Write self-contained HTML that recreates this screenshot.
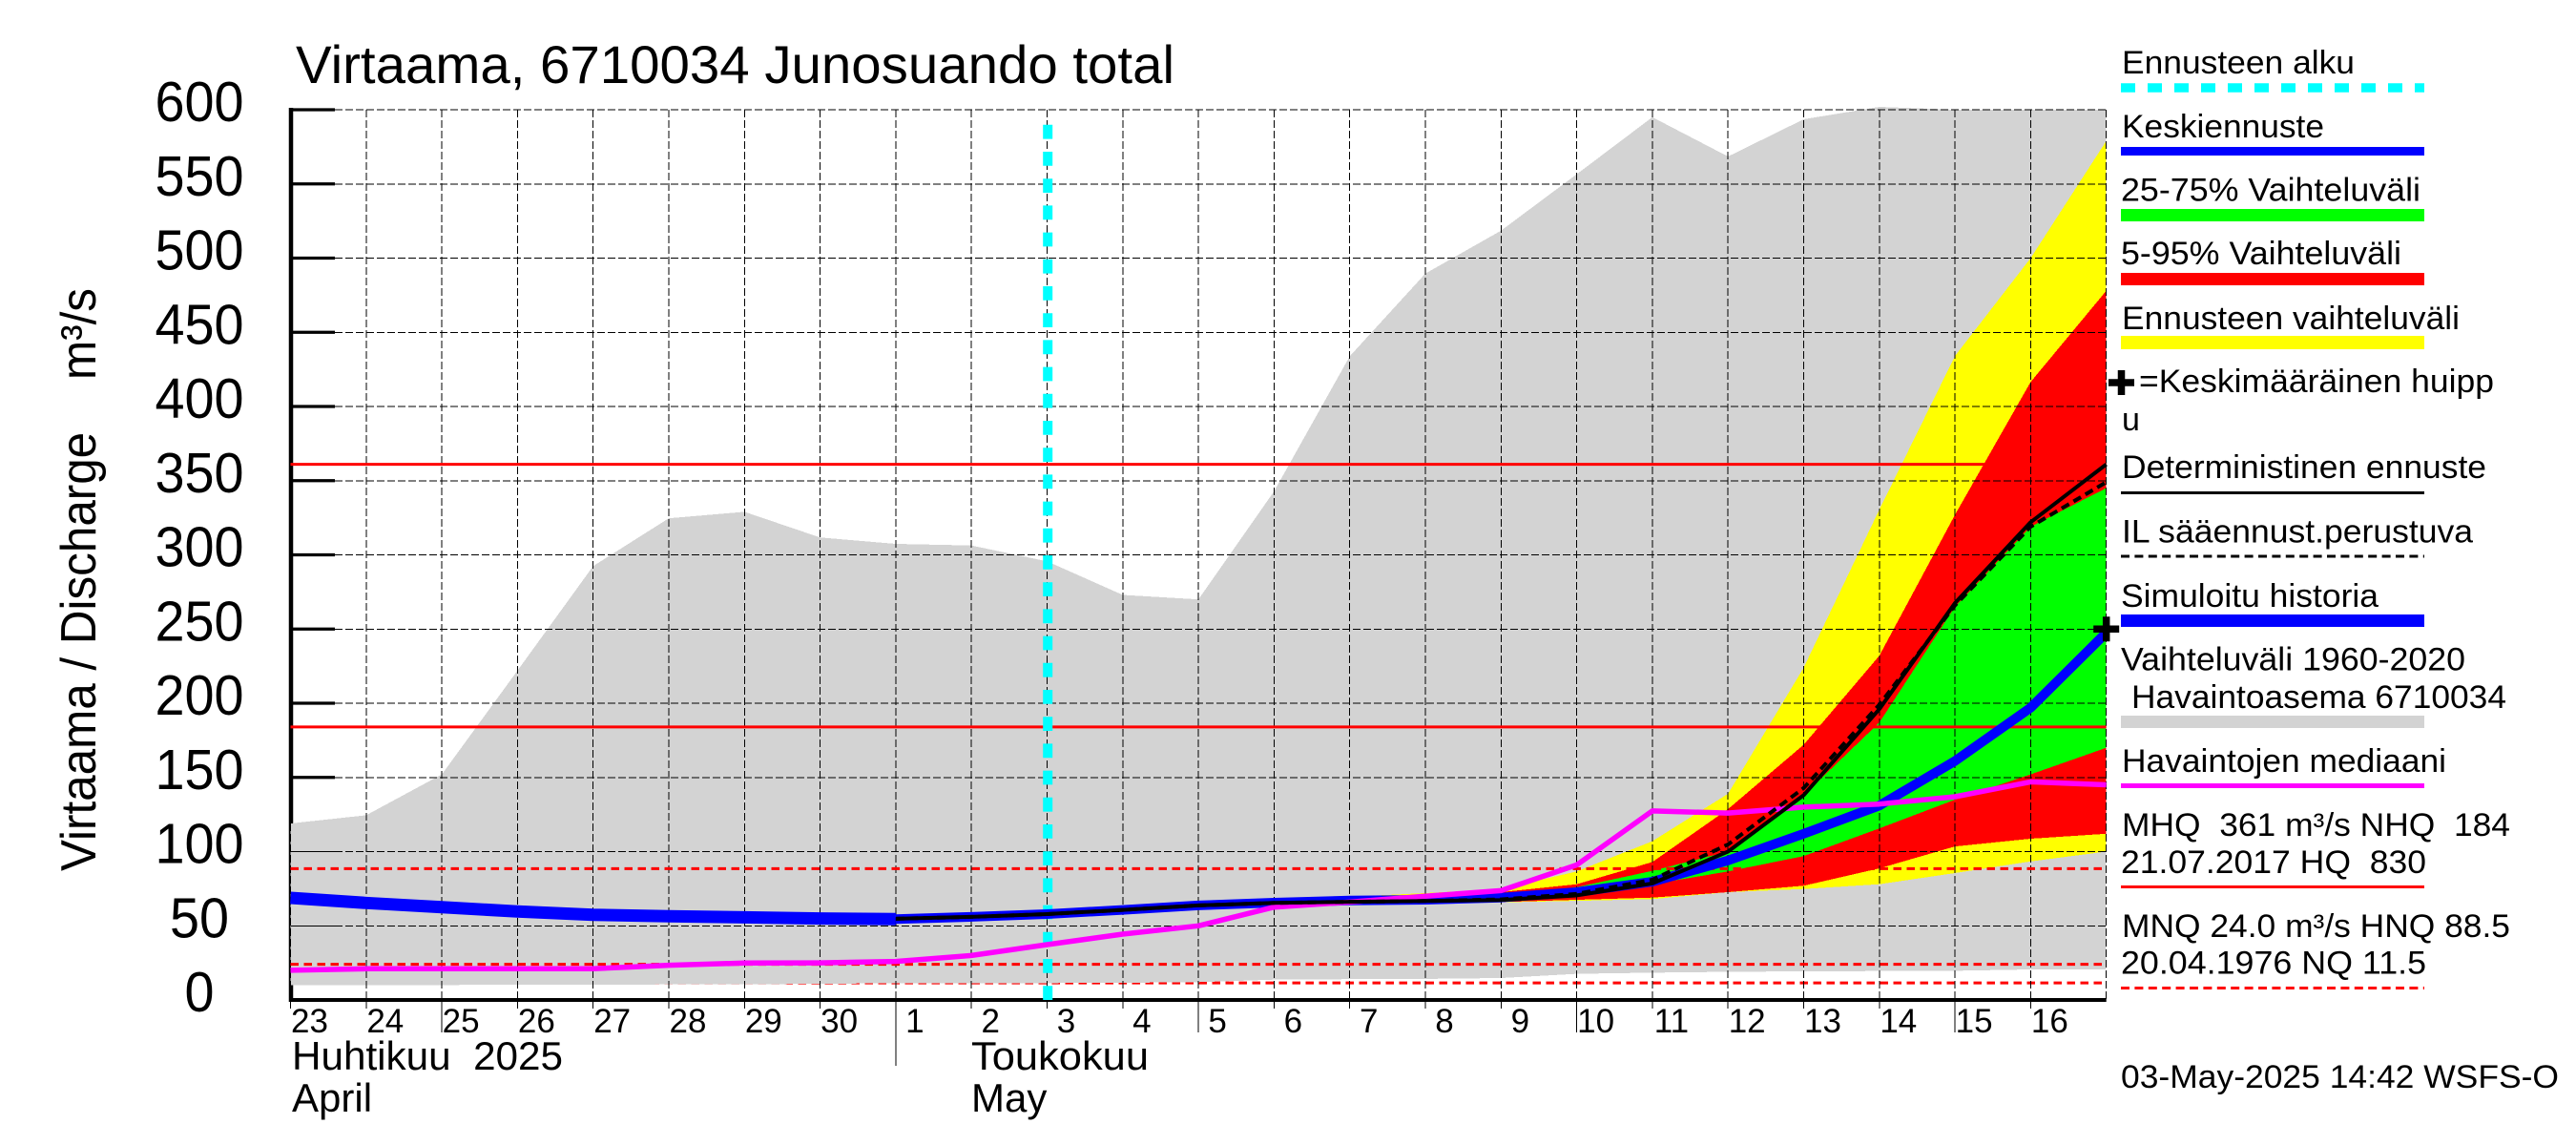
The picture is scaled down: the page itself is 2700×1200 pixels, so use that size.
<!DOCTYPE html>
<html lang="fi">
<head>
<meta charset="utf-8">
<title>Virtaama, 6710034 Junosuando total</title>
<style>
html,body{margin:0;padding:0;background:#fff;}
svg{display:block;}
text{font-family:"Liberation Sans",Arial,sans-serif;fill:#000;white-space:pre;}
.lg{font-size:34px;}
</style>
</head>
<body>
<svg id="chart" xmlns="http://www.w3.org/2000/svg" width="2700" height="1200" viewBox="0 0 2700 1200">
  <rect x="0" y="0" width="2700" height="1200" fill="#ffffff"/>
  <g id="layer-axes"></g>
  <g id="layer-low"></g>
  <g id="layer-grey"></g>
  <g id="layer-bands"></g>
  <g id="layer-grid"></g>
  <g id="layer-levels"></g>
  <g id="layer-start"></g>
  <g id="layer-lines"></g>
  <g id="layer-labels"></g>

  <text x="310" y="87" font-size="56" textLength="921" lengthAdjust="spacingAndGlyphs">Virtaama, 6710034 Junosuando total</text>
  <text x="100" y="913" font-size="52" transform="rotate(-90 100 913)" textLength="611" lengthAdjust="spacingAndGlyphs">Virtaama / Discharge    m³/s</text>
  <text x="306" y="1121" font-size="42" textLength="284" lengthAdjust="spacingAndGlyphs">Huhtikuu  2025</text>
  <text x="306" y="1165" font-size="42">April</text>
  <text x="1018" y="1121" font-size="42" textLength="186" lengthAdjust="spacingAndGlyphs">Toukokuu</text>
  <text x="1018" y="1165" font-size="42">May</text>

  <g>
    <text class="lg" x="2224" y="77" textLength="244" lengthAdjust="spacingAndGlyphs">Ennusteen alku</text>
    <line x1="2223" x2="2541" y1="92" y2="92" stroke="#00ffff" stroke-width="9.5" stroke-dasharray="15 13"/>
    <text class="lg" x="2224" y="144" textLength="212" lengthAdjust="spacingAndGlyphs">Keskiennuste</text>
    <rect x="2223" y="154" width="318" height="9" fill="#0000ff"/>
    <text class="lg" x="2223" y="210.500" textLength="314" lengthAdjust="spacingAndGlyphs">25-75% Vaihteluväli</text>
    <rect x="2223" y="219" width="318" height="13" fill="#00ff00"/>
    <text class="lg" x="2223" y="277" textLength="294" lengthAdjust="spacingAndGlyphs">5-95% Vaihteluväli</text>
    <rect x="2223" y="286" width="318" height="13" fill="#ff0000"/>
    <text class="lg" x="2224" y="345" textLength="354" lengthAdjust="spacingAndGlyphs">Ennusteen vaihteluväli</text>
    <rect x="2223" y="352" width="318" height="14" fill="#ffff00"/>
    <path d="M2210 401H2237M2223.500 388V414" stroke="#000" stroke-width="7.500" fill="none"/>
    <text class="lg" x="2242" y="411" textLength="372" lengthAdjust="spacingAndGlyphs">=Keskimääräinen huipp</text>
    <text class="lg" x="2224" y="451">u</text>
    <text class="lg" x="2224" y="501" textLength="382" lengthAdjust="spacingAndGlyphs">Deterministinen ennuste</text>
    <rect x="2223" y="515" width="318" height="3" fill="#000"/>
    <text class="lg" x="2224" y="568.500" textLength="368" lengthAdjust="spacingAndGlyphs">IL sääennust.perustuva</text>
    <line x1="2223" x2="2541" y1="583" y2="583" stroke="#000" stroke-width="3" stroke-dasharray="9 5.400"/>
    <text class="lg" x="2223" y="636" textLength="270" lengthAdjust="spacingAndGlyphs">Simuloitu historia</text>
    <rect x="2223" y="644" width="318" height="13" fill="#0000ff"/>
    <text class="lg" x="2223" y="702.500" textLength="361" lengthAdjust="spacingAndGlyphs">Vaihteluväli 1960-2020</text>
    <text class="lg" x="2234" y="742" textLength="393" lengthAdjust="spacingAndGlyphs">Havaintoasema 6710034</text>
    <rect x="2223" y="750" width="318" height="13" fill="#d3d3d3"/>
    <text class="lg" x="2224" y="809" textLength="340" lengthAdjust="spacingAndGlyphs">Havaintojen mediaani</text>
    <rect x="2223" y="821" width="318" height="5" fill="#ff00ff"/>
    <text class="lg" x="2224" y="876" textLength="407" lengthAdjust="spacingAndGlyphs">MHQ  361 m³/s NHQ  184</text>
    <text class="lg" x="2223" y="915" textLength="320" lengthAdjust="spacingAndGlyphs">21.07.2017 HQ  830</text>
    <rect x="2223" y="928" width="318" height="3" fill="#ff0000"/>
    <text class="lg" x="2224" y="982" textLength="407" lengthAdjust="spacingAndGlyphs">MNQ 24.0 m³/s HNQ 88.5</text>
    <text class="lg" x="2223" y="1020.500" textLength="320" lengthAdjust="spacingAndGlyphs">20.04.1976 NQ 11.5</text>
    <line x1="2223" x2="2541" y1="1035.500" y2="1035.500" stroke="#ff0000" stroke-width="3" stroke-dasharray="9 5.400"/>
    <text class="lg" x="2223" y="1140" textLength="459" lengthAdjust="spacingAndGlyphs">03-May-2025 14:42 WSFS-O</text>
  </g>
</svg>
<script>
// Axis tick labels
const yTicks = [0, 50, 100, 150, 200, 250, 300, 350, 400, 450, 500, 550, 600];
const dayLabels = [23, 24, 25, 26, 27, 28, 29, 30, 1, 2, 3, 4, 5, 6, 7, 8, 9, 10, 11, 12, 13, 14, 15, 16];
const longTickDays = [2, 12, 17, 22];
const monthStartDay = 8;
const forecastStartDay = 10;
const bandStartDay = 10;
const lineStartDay = 8;
const lastDay = 24;

// Historical range, Apr 23 - May 17
const rangeTop = [119, 124.5, 152, 222, 292.4, 324.6, 329, 311.7, 307.4, 306.3, 295.6, 273, 270, 342.8, 433.8, 489.6, 518.5, 556.5, 595, 568.5, 593.6, 601.9, 600, 600, 600];
const rangeBottom = [10.1, 10.1, 10.1, 10.2, 10.3, 10.5, 10.5, 11, 11.2, 11.3, 11.4, 11.6, 12, 13.7, 14, 14.2, 14.8, 17.6, 18.4, 19, 19.3, 19.5, 19.7, 20.6, 20.6];

// Forecast bands, May 3 - May 17
const yellowUpper = [58.5, 61.5, 64.5, 67, 69.5, 72, 74.8, 86.6, 107, 139, 224, 330.5, 434, 500, 579];
const yellowLower = [57.5, 60, 63, 64.5, 65.3, 65.5, 65.8, 66.8, 68, 72.7, 74.8, 78, 85.5, 93.4, 100];
const redUpper = [58.3, 61.2, 64.2, 66.5, 68.5, 71, 72.7, 78, 93, 128.6, 172, 232, 327, 416.5, 478];
const redLower = [57.6, 60.3, 63.2, 64.7, 65.5, 65.8, 66, 67.5, 69, 72.7, 77, 88.7, 103.5, 108.7, 112];
const greenUpper = [58, 61, 64, 66, 68, 69, 70, 76, 87, 100, 138, 187, 265, 319, 345];
const greenLower = [57.8, 60.5, 63.5, 65, 65.8, 66.3, 67.5, 70.6, 78, 86.6, 97, 115.6, 135, 152, 170];

// Lines
const simulatedHistory = [68.8, 65.4, 62.6, 59.6, 57.4, 56.4, 55.7, 54.9, 54.5];
const meanForecast = [54.5, 56, 57.9, 60.7, 63.7, 65.6, 67, 67.5, 69, 72.7, 79.7, 94, 112, 131, 161, 197, 247.5];
const deterministic = [54.7, 56, 57.9, 60.7, 63.7, 65.4, 66.2, 66.7, 67.3, 70.5, 78.5, 100, 138, 196, 267.5, 322, 361];
const ilForecast = [54.7, 56, 57.9, 60.7, 63.7, 65.4, 66.2, 66.7, 67.8, 71.5, 81, 104.8, 142.8, 199, 266, 319, 349];
const observedMedian = [20, 21, 21, 21, 21, 23.4, 24.9, 25, 26, 30, 37.3, 44.4, 50, 62.6, 66, 69.9, 73.7, 91, 127.4, 126, 130, 132, 137, 147, 145];

// Reference levels and the mean peak
const solidLevels = [361, 184];
const dashedLevels = [88.5, 24.0];
const nqLevel = 11.5;
const meanPeakValue = 250;

function xScale(day) { return 304.5 + 79.3 * day; }
function yScale(v) { return 1048 - 1.555 * v; }

const NS = 'http://www.w3.org/2000/svg';
function mk(parentId, tag, attrs, content) {
  const el = document.createElementNS(NS, tag);
  for (const k in attrs) el.setAttribute(k, attrs[k]);
  if (content !== undefined) el.textContent = content;
  document.getElementById(parentId).appendChild(el);
  return el;
}
function pts(values, startDay) {
  return values.map(function (v, i) { return xScale(startDay + i).toFixed(1) + ',' + yScale(v).toFixed(1); });
}
function bandPoints(upper, lower, startDay) {
  return pts(upper, startDay).concat(pts(lower, startDay).reverse()).join(' ');
}
function hline(layer, v, stroke, width, dash) {
  const attrs = { x1: xScale(0), x2: xScale(lastDay), y1: yScale(v), y2: yScale(v), stroke: stroke, 'stroke-width': width };
  if (dash) attrs['stroke-dasharray'] = dash;
  return mk(layer, 'line', attrs);
}
function drawLine(values, startDay, stroke, width, dash) {
  const attrs = { points: pts(values, startDay).join(' '), fill: 'none', stroke: stroke, 'stroke-width': width, 'stroke-linejoin': 'round' };
  if (dash) attrs['stroke-dasharray'] = dash;
  return mk('layer-lines', 'polyline', attrs);
}

// Axes and heavy ticks
let el = mk('layer-axes', 'line', { x1: 305, x2: 305, y1: yScale(600) - 2, y2: yScale(0) + 2, stroke: '#000', 'stroke-width': 4.5 });


el = mk('layer-axes', 'line', { x1: 303, x2: xScale(lastDay), y1: yScale(0), y2: yScale(0), stroke: '#000', 'stroke-width': 4 });


yTicks.forEach(function (t) {
  const tick = mk('layer-axes', 'line', { x1: 305, x2: 351, y1: yScale(t), y2: yScale(t), stroke: '#000', 'stroke-width': 3.2 });
  
  
  const label = mk('layer-labels', 'text', { x: 209, y: yScale(t) + 12, 'font-size': 59, 'text-anchor': 'middle', textLength: String(t).length * 31, lengthAdjust: 'spacingAndGlyphs' }, String(t));
  
  
});

// NQ level sits behind the historical range
el = hline('layer-low', nqLevel, '#ff0000', 3, '8.500 5.500');



// Historical range
el = mk('layer-grey', 'polygon', { points: bandPoints(rangeTop, rangeBottom, 0), fill: '#d3d3d3', 'shape-rendering': 'crispEdges' });



// Forecast bands
el = mk('layer-bands', 'polygon', { points: bandPoints(yellowUpper, yellowLower, bandStartDay), fill: '#ffff00', 'shape-rendering': 'crispEdges' });


el = mk('layer-bands', 'polygon', { points: bandPoints(redUpper, redLower, bandStartDay), fill: '#ff0000', 'shape-rendering': 'crispEdges' });


el = mk('layer-bands', 'polygon', { points: bandPoints(greenUpper, greenLower, bandStartDay), fill: '#00ff00', 'shape-rendering': 'crispEdges' });



// Grid
yTicks.forEach(function (t) {
  if (t === 0) return;
  const solidPart = mk('layer-grid', 'line', { x1: 305, x2: 351, y1: yScale(t), y2: yScale(t), stroke: '#000', 'stroke-width': 1, 'shape-rendering': 'crispEdges' });
  
  
  const g = mk('layer-grid', 'line', { x1: 351, x2: xScale(lastDay), y1: yScale(t), y2: yScale(t), stroke: '#000', 'stroke-width': 1, 'stroke-dasharray': '8 3', 'shape-rendering': 'crispEdges' });
  
  
});
for (let d = 0; d <= lastDay; d++) {
  const bottom = d === lastDay ? yScale(0) : yScale(0) + 9;
  const g = mk('layer-grid', 'line', { x1: xScale(d), x2: xScale(d), y1: yScale(600), y2: bottom, stroke: '#000', 'stroke-width': 1, 'stroke-dasharray': '8 3', 'shape-rendering': 'crispEdges' });
  
  
}
dayLabels.forEach(function (lab, d) {
  const t = mk('layer-labels', 'text', { x: xScale(d) + 20, y: 1082, 'font-size': 35, 'text-anchor': 'middle' }, String(lab));
  
  
});
longTickDays.forEach(function (d) {
  const t = mk('layer-grid', 'line', { x1: xScale(d), x2: xScale(d), y1: yScale(0), y2: 1082, stroke: '#000', 'stroke-width': 1, 'shape-rendering': 'crispEdges' });
  
  
});
el = mk('layer-grid', 'line', { x1: xScale(monthStartDay), x2: xScale(monthStartDay), y1: yScale(0), y2: 1117, stroke: '#000', 'stroke-width': 1, 'shape-rendering': 'crispEdges' });



// Reference levels
solidLevels.forEach(function (v) {
  const l = hline('layer-levels', v, '#ff0000', 3);
  
  
});
dashedLevels.forEach(function (v) {
  const l = hline('layer-levels', v, '#ff0000', 3, '8.500 5.500');
  
  
});

// Forecast start marker
el = mk('layer-start', 'line', { x1: xScale(forecastStartDay) + 0.7, x2: xScale(forecastStartDay) + 0.7, y1: yScale(0), y2: yScale(600) + 12, stroke: '#00ffff', 'stroke-width': 10, 'stroke-dasharray': '14.800 13.400' });



// Series lines
el = drawLine(simulatedHistory, 0, '#0000ff', 13);


el = drawLine(meanForecast, lineStartDay, '#0000ff', 10);


el = drawLine(observedMedian, 0, '#ff00ff', 5.5);


el = drawLine(ilForecast, lineStartDay, '#000', 4, '9 5.400');


el = drawLine(deterministic, lineStartDay, '#000', 4);



// Mean peak marker
const px = xScale(lastDay);
const py = yScale(meanPeakValue);
el = mk('layer-lines', 'path', { d: 'M' + (px - 13.5) + ' ' + py + 'H' + (px + 13.5) + 'M' + px + ' ' + (py - 13) + 'V' + (py + 13), stroke: '#000', 'stroke-width': 7.5, fill: 'none' });


</script>
</body>
</html>
